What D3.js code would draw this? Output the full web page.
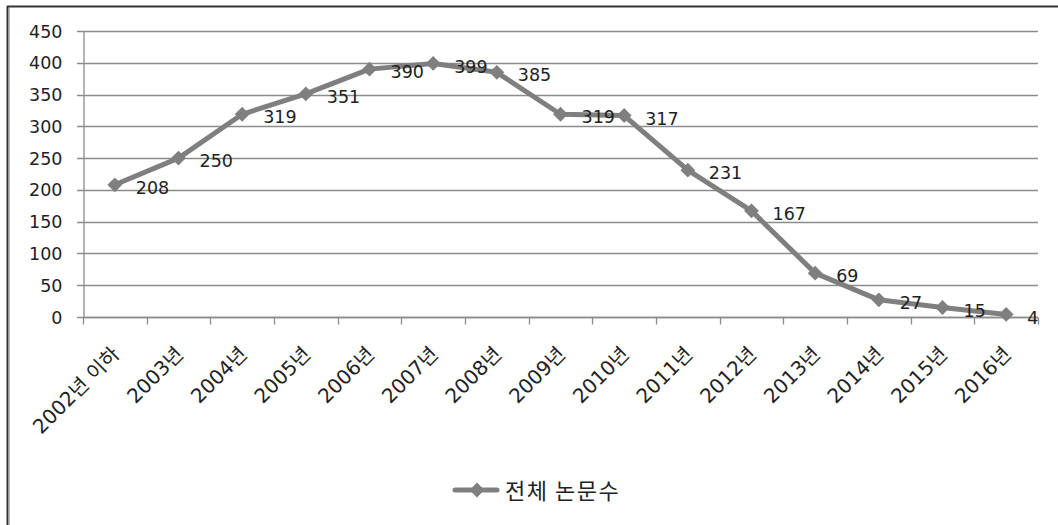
<!DOCTYPE html>
<html>
<head>
<meta charset="utf-8">
<script src="https://cdn.jsdelivr.net/npm/d3@7"></script>
<style>
body { margin: 0; background: #fff; }
text { font-family: "DejaVu Sans", "Noto Sans CJK KR", sans-serif; fill: #222; }
</style>
</head>
<body>
<svg width="1058" height="525"></svg>
<script>
var categories = ["2002년 이하", "2003년", "2004년", "2005년", "2006년", "2007년", "2008년", "2009년",
  "2010년", "2011년", "2012년", "2013년", "2014년", "2015년", "2016년"];
var values = [208, 250, 319, 351, 390, 399, 385, 319, 317, 231, 167, 69, 27, 15, 4];
var yTicks = [0, 50, 100, 150, 200, 250, 300, 350, 400, 450];
var seriesName = "전체 논문수";

var width = 1058, height = 525;
var margin = ({top: 31, right: 20, bottom: 208, left: 83});

var svg = d3.select("svg");

// frame (top + left only)
svg.append("line").attr("x1", 7).attr("x2", width).attr("y1", 6.5).attr("y2", 6.5)
  .attr("stroke", "#333").attr("stroke-width", 2);
svg.append("line").attr("x1", 7.5).attr("x2", 7.5).attr("y1", 6).attr("y2", height)
  .attr("stroke", "#333").attr("stroke-width", 2);
svg.append("line").attr("x1", 9.5).attr("x2", 9.5).attr("y1", 8).attr("y2", height)
  .attr("stroke", "#bbb").attr("stroke-width", 1);

var x = d3.scaleBand()
  .domain(categories)
  .range([margin.left, 1038]);

var y = d3.scaleLinear()
  .domain([0, 450])
  .range([317, margin.top]);

// gridlines
svg.append("g")
  .selectAll("line")
  .data(yTicks)
  .join("line")
  .attr("x1", margin.left - 6).attr("x2", 1038)
  .attr("y1", d => Math.round(y(d)) + 0.5).attr("y2", d => Math.round(y(d)) + 0.5)
  .attr("stroke", "#8c8c8c").attr("stroke-width", 1.3);

// y axis
var yAxis = svg.append("g")
  .attr("transform", "translate(" + (margin.left + 0.5) + ",0.5)")
  .call(d3.axisLeft(y).tickValues(yTicks).tickSize(0).tickPadding(21));
yAxis.select(".domain").attr("stroke", "#8c8c8c").attr("stroke-width", 1.3);
yAxis.selectAll("text").attr("font-size", 17.5).style("font-family", "DejaVu Sans").style("fill", "#222");

// x axis
var xAxis = svg.append("g")
  .attr("transform", "translate(0," + (Math.round(y(0)) + 0.5) + ")");
xAxis.append("line").attr("x1", margin.left).attr("x2", 1038)
  .attr("stroke", "#8c8c8c").attr("stroke-width", 1.3);
xAxis.selectAll("line.tick")
  .data(categories.concat(["end"]))
  .join("line")
  .attr("class", "tick")
  .attr("x1", (d, i) => Math.round(margin.left + i * x.bandwidth()) + 0.5)
  .attr("x2", (d, i) => Math.round(margin.left + i * x.bandwidth()) + 0.5)
  .attr("y1", 0).attr("y2", 7)
  .attr("stroke", "#8c8c8c").attr("stroke-width", 1.3);
xAxis.selectAll("text")
  .data(categories)
  .join("text")
  .attr("transform", d => "translate(" + (x(d) + x.bandwidth() / 2 + 6) + ",38) rotate(-45)")
  .attr("text-anchor", "end")
  .attr("font-size", 20)
  .text(d => d);

// line
var line = d3.line()
  .x((d, i) => x(categories[i]) + x.bandwidth() / 2)
  .y(d => y(d));

svg.append("path")
  .datum(values)
  .attr("fill", "none")
  .attr("stroke", "#7f7f7f")
  .attr("stroke-width", 5)
  .attr("stroke-linejoin", "round")
  .attr("d", line);

var diamond = d3.symbol().type(d3.symbolSquare).size(110);

svg.append("g")
  .selectAll("path")
  .data(values)
  .join("path")
  .attr("transform", (d, i) => "translate(" + (x(categories[i]) + x.bandwidth() / 2) + "," + y(d) + ") rotate(45)")
  .attr("d", diamond)
  .attr("fill", "#7f7f7f");

// data labels
svg.append("g")
  .selectAll("text")
  .data(values)
  .join("text")
  .attr("x", (d, i) => x(categories[i]) + x.bandwidth() / 2 + 21)
  .attr("y", d => y(d) + 3)
  .attr("dy", "0.35em")
  .attr("font-size", 17.5)
  .text(d => d);

// legend
var lg = svg.append("g").attr("transform", "translate(455,490)");
lg.append("line").attr("x1", 0).attr("x2", 42).attr("y1", 0).attr("y2", 0)
  .attr("stroke", "#7f7f7f").attr("stroke-width", 5).attr("stroke-linecap", "round");
lg.append("path").attr("transform", "translate(22,0) rotate(45)").attr("d", diamond).attr("fill", "#7f7f7f");
lg.append("text").attr("x", 50).attr("y", 1).attr("dy", "0.35em")
  .style("font-family", "Noto Sans CJK KR")
  .style("letter-spacing", "1.5px")
  .attr("font-size", 22).text(seriesName);
</script>
</body>
</html>
